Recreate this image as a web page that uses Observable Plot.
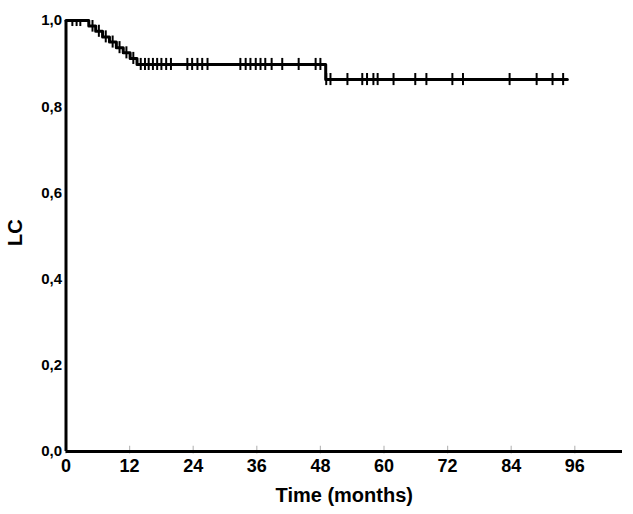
<!DOCTYPE html>
<html><head><meta charset="utf-8">
<script src="https://cdn.jsdelivr.net/npm/d3@7"></script>
<script src="https://cdn.jsdelivr.net/npm/@observablehq/plot@0.6"></script>
<style>body{margin:0;background:#fff}</style>
</head><body><div id="chart"></div>
<script>
// Kaplan-Meier step values (time in months, LC after the event)
const eventTimes = [0, 4.3, 5.6, 6.9, 8.2, 9.5, 10.8, 12.1, 13.4, 49.0, 94.6];
const survival   = [1.0, 0.987, 0.975, 0.962, 0.950, 0.937, 0.925, 0.912, 0.898, 0.863, 0.863];
// censored observations (months)
const censorTimes = [1.2, 2.0, 2.7, 5.0, 6.2, 7.5, 8.8, 10.1, 11.4, 12.7,
  14.1, 14.9, 15.6, 16.4, 17.2, 18.0, 18.9, 19.8,
  22.9, 23.8, 24.8, 25.7, 26.7,
  32.9, 33.9, 34.8, 35.8, 36.7, 37.6, 38.8, 40.8, 43.9, 47.1, 48.0,
  49.1, 49.9, 53.1, 55.9, 56.8, 58.0, 58.8, 61.8, 65.9, 68.0, 72.9, 74.9,
  83.7, 88.8, 91.8, 93.8];
const xTicks = [0, 12, 24, 36, 48, 60, 72, 84, 96];
const yTicks = [0, 0.2, 0.4, 0.6, 0.8, 1.0];
const xLabel = "Time (months)";
const yLabel = "LC";

const steps = eventTimes.map((t, i) => ({t, s: survival[i]}));
function survAt(t) {
  let s = survival[0];
  for (let i = 0; i < eventTimes.length; i++) if (eventTimes[i] <= t) s = survival[i];
  return s;
}
const censored = censorTimes.map(t => ({t, s: survAt(t)}));
const fmt = d => d.toFixed(1).replace(".", ",");
const font = "'Liberation Sans', Arial, sans-serif";

const chart = Plot.plot({
  width: 633, height: 514,
  marginLeft: 65.5, marginRight: 11, marginTop: 20, marginBottom: 63,
  style: {fontFamily: font, background: "#fff", color: "#000"},
  x: {domain: [0, 105]},
  y: {domain: [0, 1]},
  marks: [
    Plot.ruleX(xTicks, {y1: -0.006, y2: 0.012, stroke: "#bbb", strokeWidth: 1.2}),
    Plot.axisX(xTicks, {tickSize: 0, tickPadding: 8, fontSize: 18, fontWeight: "bold", label: null}),
    Plot.axisY(yTicks, {tickSize: 0, tickPadding: 4, fontSize: 15, fontWeight: "bold", letterSpacing: 0.8, tickFormat: fmt, label: null}),
    Plot.text([xLabel], {text: d => d, frameAnchor: "bottom", dy: 50, fontSize: 20, fontWeight: "bold", fill: "#000"}),
    Plot.text([yLabel], {text: d => d, frameAnchor: "left", rotate: -90, dx: -50, dy: 10, fontSize: 20, fontWeight: "bold", fill: "#000"}),
    Plot.ruleY([0], {stroke: "#000", strokeWidth: 3}),
    Plot.ruleX([0], {stroke: "#000", strokeWidth: 3}),
    Plot.line(steps, {x: "t", y: "s", curve: "step-after", stroke: "#000", strokeWidth: 3}),
    Plot.ruleX(censored, {x: "t", y1: d => d.s - 0.014, y2: d => Math.min(1, d.s + 0.014), stroke: "#000", strokeWidth: 2})
  ]
});
document.getElementById("chart").appendChild(chart);
</script>
</body></html>
